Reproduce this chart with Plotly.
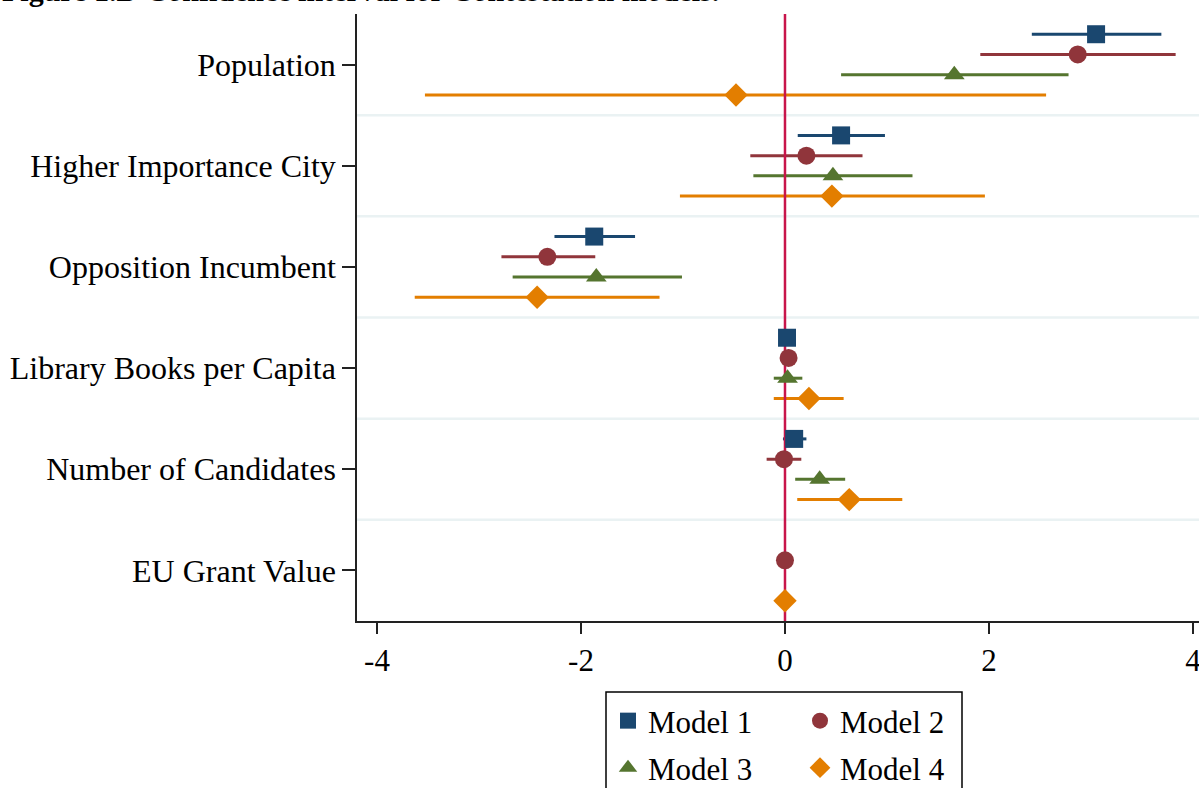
import plotly.graph_objects as go

categories = ["Population", "Higher Importance City", "Opposition Incumbent",
              "Library Books per Capita", "Number of Candidates", "EU Grant Value"]
models = ["Model 1", "Model 2", "Model 3", "Model 4"]

# point estimates (None = not in model)
coef_m1 = [3.05, 0.55, -1.87, 0.02, 0.09, None]
coef_m2 = [2.87, 0.21, -2.33, 0.035, -0.01, 0.0]
coef_m3 = [1.66, 0.47, -1.85, 0.025, 0.34, None]
coef_m4 = [-0.48, 0.46, -2.43, 0.235, 0.63, 0.0]

lo_m1 = [2.42, 0.125, -2.26, 0.00, -0.02, None]
hi_m1 = [3.69, 0.98, -1.47, 0.04, 0.21, None]
lo_m2 = [1.915, -0.34, -2.78, 0.02, -0.18, -0.01]
hi_m2 = [3.83, 0.76, -1.86, 0.05, 0.16, 0.01]
lo_m3 = [0.55, -0.31, -2.67, -0.11, 0.10, None]
hi_m3 = [2.78, 1.25, -1.01, 0.17, 0.59, None]
lo_m4 = [-3.53, -1.03, -3.63, -0.11, 0.12, -0.01]
hi_m4 = [2.56, 1.96, -1.23, 0.575, 1.15, 0.01]

x_ticks = [-4, -2, 0, 2, 4]
title_text = "Figure 1.D Confidence interval for Contestation models."

colors = ["#1A476F", "#90353B", "#55752F", "#E37E00"]
symbols = ["square", "circle", "triangle-up", "diamond"]
offsets = [-0.3, -0.1, 0.1, 0.3]
coefs = [coef_m1, coef_m2, coef_m3, coef_m4]
los = [lo_m1, lo_m2, lo_m3, lo_m4]
his = [hi_m1, hi_m2, hi_m3, hi_m4]
legend_ids = ["legend", "legend", "legend2", "legend2"]

FONT = "Liberation Serif, Times New Roman, serif"
base_pos = list(range(1, len(categories) + 1))

fig = go.Figure()

# confidence intervals
for m in range(4):
    xs, ys, ep, em = [], [], [], []
    for i, c in enumerate(coefs[m]):
        if c is None:
            continue
        xs.append(c)
        ys.append(base_pos[i] + offsets[m])
        ep.append(his[m][i] - c)
        em.append(c - los[m][i])
    fig.add_trace(go.Scatter(
        x=xs, y=ys, mode="markers", marker=dict(size=1, opacity=0),
        error_x=dict(type="data", array=ep, arrayminus=em, symmetric=False,
                     color=colors[m], thickness=3, width=0),
        showlegend=False, hoverinfo="skip"))

# reference line at zero
fig.add_trace(go.Scatter(x=[0, 0], y=[0.5, 6.5], mode="lines",
                         line=dict(color="#C8154B", width=2.5),
                         showlegend=False, hoverinfo="skip"))

# point markers
for m in range(4):
    xs, ys = [], []
    for i, c in enumerate(coefs[m]):
        if c is None:
            continue
        xs.append(c)
        ys.append(base_pos[i] + offsets[m])
    fig.add_trace(go.Scatter(
        x=xs, y=ys, mode="markers", name=models[m],
        marker=dict(symbol=symbols[m], size=18, color=colors[m], line=dict(width=0)),
        legend=legend_ids[m]))

# plot geometry in pixels
L, R, T, B = 357, 1199, 14, 621
W, H = R - L, B - T


def px(xp):
    return (xp - L) / W


def py(yp):
    return (B - yp) / H


shapes = []
for k in range(1, len(categories)):
    shapes.append(dict(type="line", xref="paper", yref="y", x0=0, x1=1,
                       y0=k + 0.5, y1=k + 0.5, layer="below",
                       line=dict(color="#EAF2F3", width=2.5)))
# legend box
shapes.append(dict(type="rect", xref="paper", yref="paper",
                   x0=px(606), x1=px(962), y0=py(692), y1=py(810),
                   line=dict(color="#000000", width=1.5)))

fig.update_layout(
    width=1199, height=788,
    margin=dict(l=L, r=0, t=T, b=788 - B, pad=0, autoexpand=False),
    paper_bgcolor="white", plot_bgcolor="white",
    font=dict(family=FONT, size=32, color="black"),
    shapes=shapes,
    xaxis=dict(range=[-4.196, 4.059], tickvals=x_ticks, ticktext=[str(v) for v in x_ticks],
               showgrid=False, zeroline=False, showline=True, linecolor="#222222",
               linewidth=1.5, ticks="outside", ticklen=11, tickwidth=1.5,
               tickcolor="#222222", tickfont=dict(size=31), mirror=False,
               ticklabeloverflow="allow", automargin=False),
    yaxis=dict(range=[6.5, 0.5], tickvals=base_pos, ticktext=categories,
               showgrid=False, zeroline=False, showline=True, linecolor="#222222",
               linewidth=1.5, ticks="outside", ticklen=13, tickwidth=1.5,
               tickcolor="#222222", tickfont=dict(size=32), automargin=False),
    legend=dict(orientation="h", x=px(608), xanchor="left", y=py(721), yanchor="middle",
                entrywidth=147, entrywidthmode="pixels", bgcolor="rgba(0,0,0,0)",
                borderwidth=0, font=dict(size=31, family=FONT)),
    legend2=dict(orientation="h", x=px(608), xanchor="left", y=py(768), yanchor="middle",
                 entrywidth=147, entrywidthmode="pixels", bgcolor="rgba(0,0,0,0)",
                 borderwidth=0, font=dict(size=31, family=FONT)),
    annotations=[dict(text="<b>" + title_text + "</b>", xref="paper", yref="paper",
                      x=px(0), y=py(9), xanchor="left", yanchor="bottom",
                      showarrow=False, font=dict(size=30, family=FONT, color="black"))],
    showlegend=True,
)

fig.write_html("out.html")
